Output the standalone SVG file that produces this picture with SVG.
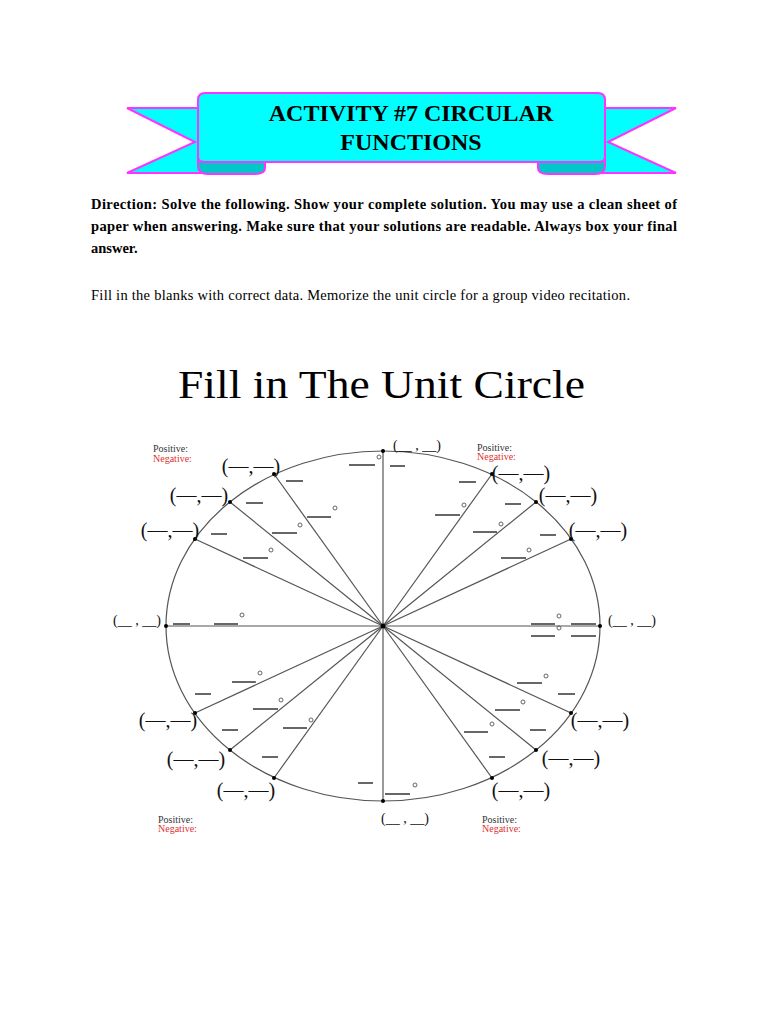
<svg xmlns="http://www.w3.org/2000/svg" width="768" height="1024" viewBox="0 0 768 1024">
<style>
.t{font-family:"Liberation Serif",serif;fill:#000}
.b{stroke:#000;stroke-width:1.2}
.r{stroke:#555;stroke-width:1.2;fill:none}
.d{fill:none;stroke:#555;stroke-width:0.9}
.c{font-family:"Liberation Serif",serif;font-size:20px;fill:#111}
.s{font-family:"Liberation Serif",serif;font-size:14px;fill:#111}
.p{font-family:"Liberation Serif",serif;font-size:10px;fill:#333}
.n{font-family:"Liberation Serif",serif;font-size:10px;fill:#e03030}
</style>
<rect width="768" height="1024" fill="#fff"/>
<g id="banner" stroke="#ff33ff" stroke-width="2">
<polygon points="127,108 205,108 205,173 127,173 195,142" fill="#00ffff"/>
<polygon points="676,108 598,108 598,173 676,173 608,142" fill="#00ffff"/>
<path d="M198,152 H265 V168 Q265,174 255,174 H208 Q198,174 198,166 Z" fill="#00c8c8"/>
<path d="M605,152 H538 V168 Q538,174 548,174 H595 Q605,174 605,166 Z" fill="#00c8c8"/>
<path d="M205,93 H598 Q605,93 605,100 V157 Q605,162 598,162 H205 Q198,162 198,157 V100 Q198,93 205,93 Z" fill="#00ffff"/>
<text class="t" x="411" y="121" font-size="24" font-weight="bold" text-anchor="middle" stroke="none">ACTIVITY #7 CIRCULAR</text>
<text class="t" x="411" y="150" font-size="24" font-weight="bold" text-anchor="middle" stroke="none">FUNCTIONS</text>
</g>
<g id="direction" class="t" font-size="14.5" font-weight="bold">
<text x="91" y="209" textLength="586" lengthAdjust="spacing">Direction: Solve the following. Show your complete solution. You may use a clean sheet of</text>
<text x="91" y="231" textLength="586" lengthAdjust="spacing">paper when answering. Make sure that your solutions are readable. Always box your final</text>
<text x="91" y="253">answer.</text>
</g>
<text class="t" x="91" y="300" font-size="14.5" textLength="539" lengthAdjust="spacing">Fill in the blanks with correct data. Memorize the unit circle for a  group video recitation.</text>
<text class="t" x="178" y="398" font-size="40" textLength="407" lengthAdjust="spacingAndGlyphs" fill="#222">Fill in The Unit Circle</text>
<g id="quadrant-labels">
<text class="p" x="153" y="452">Positive:</text><text class="n" x="153" y="462">Negative:</text>
<text class="p" x="477" y="451">Positive:</text><text class="n" x="477" y="460">Negative:</text>
<text class="p" x="158" y="823">Positive:</text><text class="n" x="158" y="832">Negative:</text>
<text class="p" x="482" y="823">Positive:</text><text class="n" x="482" y="832">Negative:</text>
</g>
<g id="circle">
<ellipse class="r" cx="383" cy="626" rx="217" ry="175"/>
</g>
<g id="connectors" class="r">
<line x1="166" y1="626" x2="600" y2="626"/>
<line x1="383" y1="451" x2="383" y2="801"/>
<line x1="383" y1="626" x2="571" y2="539"/><line x1="383" y1="626" x2="536" y2="502"/><line x1="383" y1="626" x2="492" y2="474"/>
<line x1="383" y1="626" x2="274" y2="474"/><line x1="383" y1="626" x2="230" y2="502"/><line x1="383" y1="626" x2="195" y2="539"/>
<line x1="383" y1="626" x2="195" y2="713"/><line x1="383" y1="626" x2="230" y2="750"/><line x1="383" y1="626" x2="274" y2="778"/>
<line x1="383" y1="626" x2="571" y2="713"/><line x1="383" y1="626" x2="536" y2="750"/><line x1="383" y1="626" x2="492" y2="778"/>
</g>
<g id="points" fill="#000">
<circle cx="383" cy="451" r="2"/><circle cx="383" cy="801" r="2"/><circle cx="166" cy="626" r="2"/><circle cx="600" cy="626" r="2"/>
<circle cx="571" cy="539" r="2"/><circle cx="536" cy="502" r="2"/><circle cx="492" cy="474" r="2"/>
<circle cx="274" cy="474" r="2"/><circle cx="230" cy="502" r="2"/><circle cx="195" cy="539" r="2"/>
<circle cx="195" cy="713" r="2"/><circle cx="230" cy="750" r="2"/><circle cx="274" cy="778" r="2"/>
<circle cx="571" cy="713" r="2"/><circle cx="536" cy="750" r="2"/><circle cx="492" cy="778" r="2"/>
<circle cx="383" cy="626" r="2.5"/>
</g>
<g id="blanks" class="b">
<line x1="349" y1="465" x2="375" y2="465"/><line x1="390" y1="466" x2="405" y2="466"/>
<line x1="286" y1="481" x2="303" y2="481"/><line x1="307" y1="517" x2="331" y2="517"/>
<line x1="246" y1="503" x2="263" y2="503"/><line x1="272" y1="533" x2="297" y2="533"/>
<line x1="211" y1="534" x2="227" y2="534"/><line x1="243" y1="558" x2="268" y2="558"/>
<line x1="173" y1="624" x2="190" y2="624"/><line x1="214" y1="624" x2="238" y2="624"/>
<line x1="459" y1="482" x2="476" y2="482"/><line x1="435" y1="515" x2="460" y2="515"/>
<line x1="505" y1="504" x2="521" y2="504"/><line x1="473" y1="532" x2="497" y2="532"/>
<line x1="540" y1="535" x2="556" y2="535"/><line x1="501" y1="558" x2="526" y2="558"/>
<line x1="531" y1="624" x2="555" y2="624"/><line x1="571" y1="624" x2="596" y2="624"/>
<line x1="531" y1="636" x2="555" y2="636"/><line x1="571" y1="636" x2="596" y2="636"/>
<line x1="195" y1="694" x2="211" y2="694"/><line x1="232" y1="682" x2="256" y2="682"/>
<line x1="222" y1="730" x2="238" y2="730"/><line x1="253" y1="709" x2="278" y2="709"/>
<line x1="262" y1="757" x2="278" y2="757"/><line x1="283" y1="728" x2="307" y2="728"/>
<line x1="358" y1="783" x2="373" y2="783"/><line x1="385" y1="794" x2="410" y2="794"/>
<line x1="489" y1="757" x2="505" y2="757"/><line x1="464" y1="732" x2="488" y2="732"/>
<line x1="530" y1="730" x2="546" y2="730"/><line x1="495" y1="710" x2="520" y2="710"/>
<line x1="558" y1="694" x2="575" y2="694"/><line x1="517" y1="683" x2="542" y2="683"/>
</g>
<g id="degrees" class="d">
<circle cx="379" cy="457" r="2"/><circle cx="335" cy="508" r="2"/><circle cx="300" cy="525" r="2"/><circle cx="271" cy="550" r="2"/><circle cx="242" cy="615" r="2"/>
<circle cx="464" cy="505" r="2"/><circle cx="501" cy="524" r="2"/><circle cx="529" cy="550" r="2"/><circle cx="559" cy="616" r="2"/><circle cx="559" cy="628" r="2"/>
<circle cx="260" cy="673" r="2"/><circle cx="281" cy="700" r="2"/><circle cx="311" cy="720" r="2"/><circle cx="415" cy="785" r="2"/>
<circle cx="492" cy="724" r="2"/><circle cx="523" cy="702" r="2"/><circle cx="546" cy="676" r="2"/>
</g>
<g id="coords">
<text class="s" x="417" y="450" text-anchor="middle">(__ , __)</text>
<text class="s" x="137" y="625" text-anchor="middle">(__ , __)</text>
<text class="s" x="632" y="625" text-anchor="middle">(__ , __)</text>
<text class="s" x="405" y="823" text-anchor="middle">(__ , __)</text>
<text class="c" x="251" y="473" text-anchor="middle">(—,—)</text>
<text class="c" x="199" y="502" text-anchor="middle">(—,—)</text>
<text class="c" x="170" y="537" text-anchor="middle">(—,—)</text>
<text class="c" x="521" y="480" text-anchor="middle" font-size="17">(—,—)</text>
<text class="c" x="568" y="502" text-anchor="middle">(—,—)</text>
<text class="c" x="598" y="537" text-anchor="middle">(—,—)</text>
<text class="c" x="168" y="727" text-anchor="middle">(—,—)</text>
<text class="c" x="196" y="766" text-anchor="middle">(—,—)</text>
<text class="c" x="246" y="797" text-anchor="middle">(—,—)</text>
<text class="c" x="521" y="797" text-anchor="middle">(—,—)</text>
<text class="c" x="571" y="765" text-anchor="middle">(—,—)</text>
<text class="c" x="600" y="727" text-anchor="middle">(—,—)</text>
</g>
</svg>
